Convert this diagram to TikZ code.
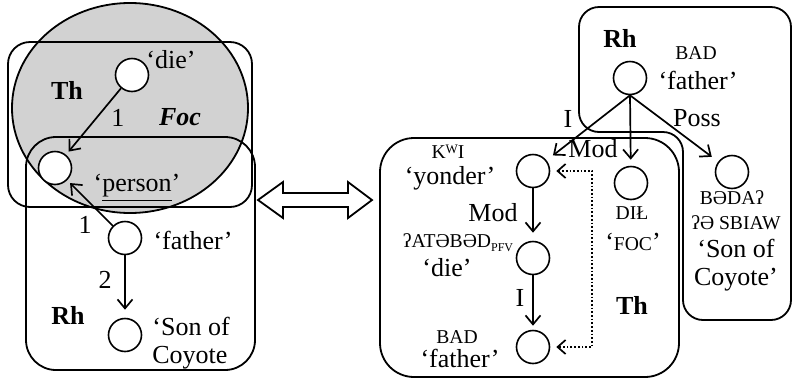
\documentclass[tikz,border=0pt]{standalone}
\usepackage{fontspec}
\setmainfont{Liberation Serif}
\usetikzlibrary{arrows.meta}
% small capitals, raised w and the perfective subscript
\newcommand\capsm[1]{{\fontsize{9.8}{11}\selectfont #1}}
\newcommand\supw{\raisebox{0.55ex}{\fontsize{6.5}{7}\selectfont W}}
\newcommand\subpfv{\raisebox{-0.35ex}{\fontsize{6}{7}\selectfont PFV}}

\begin{document}
\begin{tikzpicture}[x=0.5pt,y=-0.5pt,
  every node/.style={font=\fontsize{13}{14}\selectfont},
  vtx/.style={circle,draw,fill=white,line width=0.8pt,minimum size=16.5pt,inner sep=0pt},
  txt/.style={inner sep=0pt,align=center},
  ltxt/.style={inner sep=0pt,align=left,anchor=west},
  bx/.style={draw,line width=0.9pt},
  conn/.style={line width=0.85pt,-{Straight Barb[length=4.5pt,width=7.5pt,line width=0.85pt]}},
  dconn/.style={line width=0.85pt,densely dotted,{Straight Barb[length=4pt,width=7pt,line width=0.85pt]}-{Straight Barb[length=4pt,width=7pt,line width=0.85pt]}},
]
\useasboundingbox (0,0) rectangle (794,381);

% ---------------- left structure ----------------
\fill[gray!35] (130,108) ellipse [x radius=59pt, y radius=52.5pt];
\draw[line width=0.9pt] (130,108) ellipse [x radius=59pt, y radius=52.5pt];
\draw[bx,rounded corners=11pt] (8,42) rectangle (252,207);
\draw[bx,rounded corners=15pt] (26,137) rectangle (255,370);

\node[vtx] (die) at (132,75) {};
\node[vtx] (person) at (55,168) {};
\node[vtx] (father) at (125,238) {};
\node[vtx] (son) at (125,335) {};

\node[txt] (ldie) at (171,60) {‘die’};
\node[txt] (lth) at (67,90) {\textbf{Th}};
\node[txt] (lone) at (118,118) {1};
\node[txt] (lfoc) at (180,117) {\textbf{\textit{Foc}}};
\node[txt] (lperson) at (137,188) {‘\underline{person}’};
\node[txt] (lonb) at (85,225) {1};
\node[txt] (lfather) at (193,240) {‘father’};
\node[txt] (ltwo) at (105,280) {2};
\node[txt] (lrh) at (68,315) {\textbf{Rh}};
\node[ltxt] (lson) at (152,343) {‘Son of\\Coyote};

\draw[conn,shorten >=2pt] (die) -- (person);
\draw[conn,shorten >=2pt] (father) -- (person);
\draw[conn,shorten >=4pt] (father) -- (son);

% ---------------- hollow double arrow ----------------
\draw[bx] (258,200) -- (283,182) -- (283,193) -- (348,193) -- (348,182) -- (372,200)
   -- (348,218) -- (348,207) -- (283,207) -- (283,218) -- cycle;

% ---------------- right structure ----------------
\draw[bx,rounded corners=10pt] (579,7) -- (791,7) -- (791,320) -- (683,320)
   -- (683,132) -- (579,132) -- cycle;
\draw[bx,rounded corners=17pt] (380,138) rectangle (679,377);

\node[vtx] (fatherR) at (630,78) {};
\node[vtx] (yonder) at (533,171) {};
\node[vtx] (foc) at (631,183) {};
\node[vtx] (sonR) at (732,172) {};
\node[vtx] (dieR) at (533,258) {};
\node[vtx] (fatherB) at (533,347) {};

\node[txt] (rrh) at (620,38) {\textbf{Rh}};
\node[txt] (rbad) at (696,53) {\capsm{BAD}};
\node[txt] (rfather) at (698,80) {‘father’};
\node[txt] (ri) at (568,119) {I};
\node[txt] (rmod) at (593,149) {Mod};
\node[txt] (rposs) at (697,118) {Poss};
\node[txt] (rkwi) at (448,152) {\capsm{K\supw I}};
\node[txt] (ryonder) at (450,178) {‘yonder’};
\node[txt] (rdil) at (632,213) {\capsm{DIŁ}};
\node[txt] (rfoc) at (633,242) {‘\capsm{FOC}’};
\node[txt] (rbeda) at (732,198) {\capsm{BƏDAʔ}};
\node[txt] (rsbiaw) at (736,223) {\capsm{ʔƏ SBIAW}};
\node[txt] (rson) at (736,265) {‘Son of\\Coyote’};
\node[txt] (rmodb) at (493,213) {Mod};
\node[txt] (ratebed) at (458,243) {\capsm{ʔATƏBƏD}\subpfv};
\node[txt] (rdie) at (447,268) {‘die’};
\node[txt] (rib) at (520,298) {I};
\node[txt] (rbadb) at (457,337) {\capsm{BAD}};
\node[txt] (rfatherb) at (460,358) {‘father’};
\node[txt] (rth) at (632,305) {\textbf{Th}};

\draw[conn,shorten >=4pt] (fatherR.south) -- (yonder);
\draw[conn,shorten >=3pt] (fatherR.south) -- (foc);
\draw[conn,shorten >=4pt] (fatherR.south) -- (sonR);
\draw[conn,shorten >=4pt] (yonder) -- (dieR);
\draw[conn,shorten >=2pt] (dieR) -- (fatherB);

\coordinate (dtop) at (592,171);
\coordinate (dbot) at (592,347);
\draw[dconn,shorten <=3pt,shorten >=3pt] (yonder.east) -- (dtop) -- (dbot) -- (fatherB.east);
\end{tikzpicture}
\end{document}
